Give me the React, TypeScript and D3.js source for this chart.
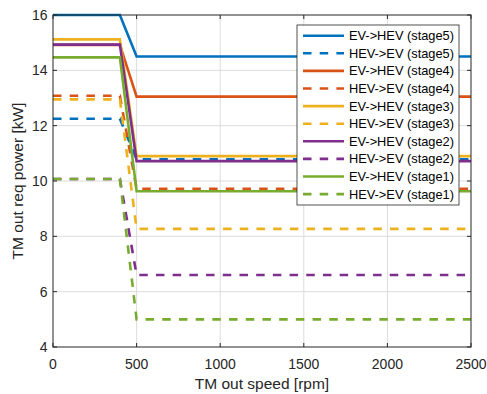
import React from 'react';
import * as d3 from 'd3';

// speed breakpoints [rpm]
const speed = [0, 400, 500, 2500];

const stages = ['stage5', 'stage4', 'stage3', 'stage2', 'stage1'];
const colors = ['#0072BD', '#D95319', '#EDB120', '#7E2F8E', '#77AC30'];

// EV->HEV power [kW] per stage
const evToHev = [
  [16, 16, 14.5, 14.5],
  [14.92, 14.92, 13.05, 13.05],
  [15.12, 15.12, 10.9, 10.9],
  [14.93, 14.93, 10.72, 10.72],
  [14.47, 14.47, 9.63, 9.63],
];

// HEV->EV power [kW] per stage
const hevToEv = [
  [12.25, 12.25, 10.78, 10.78],
  [13.08, 13.08, 9.72, 9.72],
  [12.95, 12.95, 8.27, 8.27],
  [10.07, 10.07, 6.6, 6.6],
  [10.07, 10.07, 5.0, 5.0],
];

const xTicks = [0, 500, 1000, 1500, 2000, 2500];
const yTicks = [4, 6, 8, 10, 12, 14, 16];

const W = 487;
const H = 394;
const m = { left: 53, right: 471, top: 15, bottom: 347 };
const font = 'Liberation Sans, Arial, Helvetica, sans-serif';
const axisColor = '#262626';

const App: React.FC = () => {
  const x = d3.scaleLinear().domain([0, 2500]).range([m.left, m.right]);
  const y = d3.scaleLinear().domain([4, 16]).range([m.bottom, m.top]);

  const line = d3.line<number>()
    .x((_, i) => x(speed[i]))
    .y(d => y(d));

  // legend order follows plotting order
  const series = stages.flatMap((s, i) => [
    { name: `EV->HEV (${s})`, values: evToHev[i], color: colors[i], dashed: false },
    { name: `HEV->EV (${s})`, values: hevToEv[i], color: colors[i], dashed: true },
  ]);

  const lw = 2.6;
  const dash = '8.5 8.2';
  const tick = 4;

  const leg = { x: 297, y: 25, w: 162, h: 180, row0: 35.7, step: 17.6 };

  return (
    <svg width={W} height={H} style={{ position: 'absolute', left: 0, top: 0, background: '#fff' }}>
      <rect x={0} y={0} width={W} height={H} fill="#fff" />

      {/* grid */}
      <g stroke="#dcdcdc" strokeWidth={1}>
        {xTicks.slice(1, -1).map(t => (
          <line key={`gx${t}`} x1={x(t)} x2={x(t)} y1={m.top} y2={m.bottom} />
        ))}
        {yTicks.slice(1, -1).map(t => (
          <line key={`gy${t}`} x1={m.left} x2={m.right} y1={y(t)} y2={y(t)} />
        ))}
      </g>

      {/* data */}
      <g fill="none">
        {series.map(s => (
          <path
            key={s.name}
            d={line(s.values) ?? ''}
            stroke={s.color}
            strokeWidth={lw}
            strokeDasharray={s.dashed ? dash : undefined}
          />
        ))}
      </g>

      {/* box + ticks */}
      <rect x={m.left} y={m.top} width={m.right - m.left} height={m.bottom - m.top}
        fill="none" stroke={axisColor} strokeWidth={1} />
      <g stroke={axisColor} strokeWidth={1}>
        {xTicks.map(t => (
          <g key={`tx${t}`}>
            <line x1={x(t)} x2={x(t)} y1={m.bottom} y2={m.bottom - tick} />
            <line x1={x(t)} x2={x(t)} y1={m.top} y2={m.top + tick} />
          </g>
        ))}
        {yTicks.map(t => (
          <g key={`ty${t}`}>
            <line x1={m.left} x2={m.left + tick} y1={y(t)} y2={y(t)} />
            <line x1={m.right} x2={m.right - tick} y1={y(t)} y2={y(t)} />
          </g>
        ))}
      </g>

      {/* tick labels */}
      <g fill={axisColor} fontFamily={font} fontSize={14}>
        {xTicks.map(t => (
          <text key={`lx${t}`} x={x(t)} y={368.5} textAnchor="middle">{t}</text>
        ))}
        {yTicks.map(t => (
          <text key={`ly${t}`} x={47.5} y={y(t)} dy="0.35em" textAnchor="end">{t}</text>
        ))}
      </g>

      {/* axis labels */}
      <text x={(m.left + m.right) / 2} y={388.5} textAnchor="middle" fontFamily={font}
        fontSize={15.5} fill={axisColor}>TM out speed [rpm]</text>
      <text transform={`translate(23,${(m.top + m.bottom) / 2}) rotate(-90)`} textAnchor="middle"
        fontFamily={font} fontSize={15.5} fill={axisColor}>TM out req power [kW]</text>

      {/* legend */}
      <g>
        <rect x={leg.x} y={leg.y} width={leg.w} height={leg.h} fill="#fff" stroke={axisColor} strokeWidth={0.8} />
        {series.map((s, i) => {
          const cy = leg.row0 + i * leg.step;
          return (
            <g key={`leg${s.name}`}>
              <line x1={303} x2={344} y1={cy} y2={cy} stroke={s.color} strokeWidth={lw}
                strokeDasharray={s.dashed ? dash : undefined} />
              <text x={349} y={cy} dy="0.35em" fontFamily={font} fontSize={12.8} fill="#000">{s.name}</text>
            </g>
          );
        })}
      </g>
    </svg>
  );
};

export default App;
